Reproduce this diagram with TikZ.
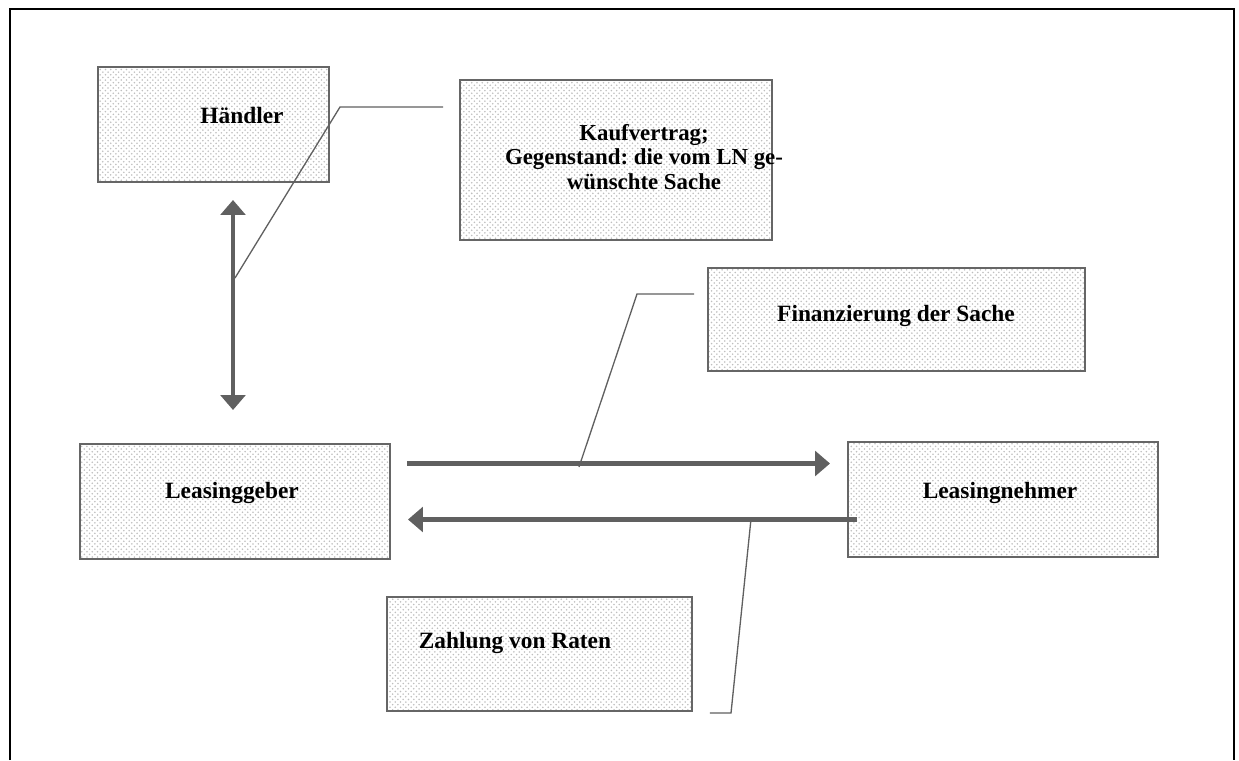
\documentclass[tikz,border=0pt]{standalone}
\usepackage{fontspec}
\setmainfont{Liberation Serif}
\usetikzlibrary{arrows.meta,patterns,calc}

\begin{document}
\begin{tikzpicture}[x=0.02cm,y=-0.02cm,
  box/.style={draw=gray!80!black,line width=0.8pt,pattern=crosshatch dots,
              pattern color=gray!50,inner sep=0pt,outer sep=0pt},
  txt/.style={font=\fontsize{13.3}{13.8}\selectfont\bfseries\frenchspacing,align=center,inner sep=0pt},
  arr/.style={draw=gray!75!black,line width=2.3pt,-{Triangle[length=8.5pt,width=14pt]}},
  dbl/.style={arr,{Triangle[length=8.5pt,width=14pt]}-{Triangle[length=8.5pt,width=14pt]}},
  callout/.style={draw=gray!75!black,line width=0.75pt}
]
\useasboundingbox (0,0) rectangle (1239,760);
\draw[line width=1.5pt] (10,760) -- (10,9) -- (1234,9) -- (1234,760);

\node[box,minimum width=4.62cm,minimum height=2.3cm]  (haendler) at (213.5,124.5) {};
\node[box,minimum width=6.24cm,minimum height=3.2cm]  (kauf)     at (616,160)     {};
\node[box,minimum width=7.54cm,minimum height=2.06cm] (fin)      at (896.5,319.5) {};
\node[box,minimum width=6.2cm, minimum height=2.3cm]  (geber)    at (235,501.5)   {};
\node[box,minimum width=6.2cm, minimum height=2.3cm]  (nehmer)   at (1003,499.5)  {};
\node[box,minimum width=6.1cm, minimum height=2.28cm] (zahlung)  at (539.5,654)   {};

\node[txt] (haendlerT) at (242,116) {Händler};
\node[txt,font={\fontsize{13}{13.8}\selectfont\bfseries\frenchspacing}]
  (kaufT) at (644,157) {Kaufvertrag;\\Gegenstand: die vom LN ge-\\wünschte Sache};
\node[txt] (finT)      at (896,316) {Finanzierung der Sache};
\node[txt] (geberT)    at (232,493) {Leasinggeber};
\node[txt] (nehmerT)   at (1000,493) {Leasingnehmer};
\node[txt] (zahlungT)  at (515,643) {Zahlung von Raten};

\coordinate (vx) at (233,0);
\draw[dbl] ($(haendler.south -| vx)+(0,18)$) -- ($(geber.north -| vx)+(0,-34)$);
\draw[arr] ($(geber.east)+(17,-38)$) -- ($(nehmer.west |- geber.east)+(-18,-38)$);
\draw[arr] ($(nehmer.west)+(9,20)$) -- ($(geber.east |- nehmer.west)+(18,20)$);

\coordinate (kaufTip) at (235,278);
\coordinate (finTip)  at (579,467);
\coordinate (zahlTip) at (751,519);
\draw[callout] ($(kauf.west)+(-17,-53)$) -- (340,107) -- (kaufTip);
\draw[callout] ($(fin.west)+(-14,-25.5)$) -- (637,294) -- (finTip);
\draw[callout] ($(zahlung.east)+(18,59)$) -- (731,713) -- (zahlTip);
\end{tikzpicture}
\end{document}
